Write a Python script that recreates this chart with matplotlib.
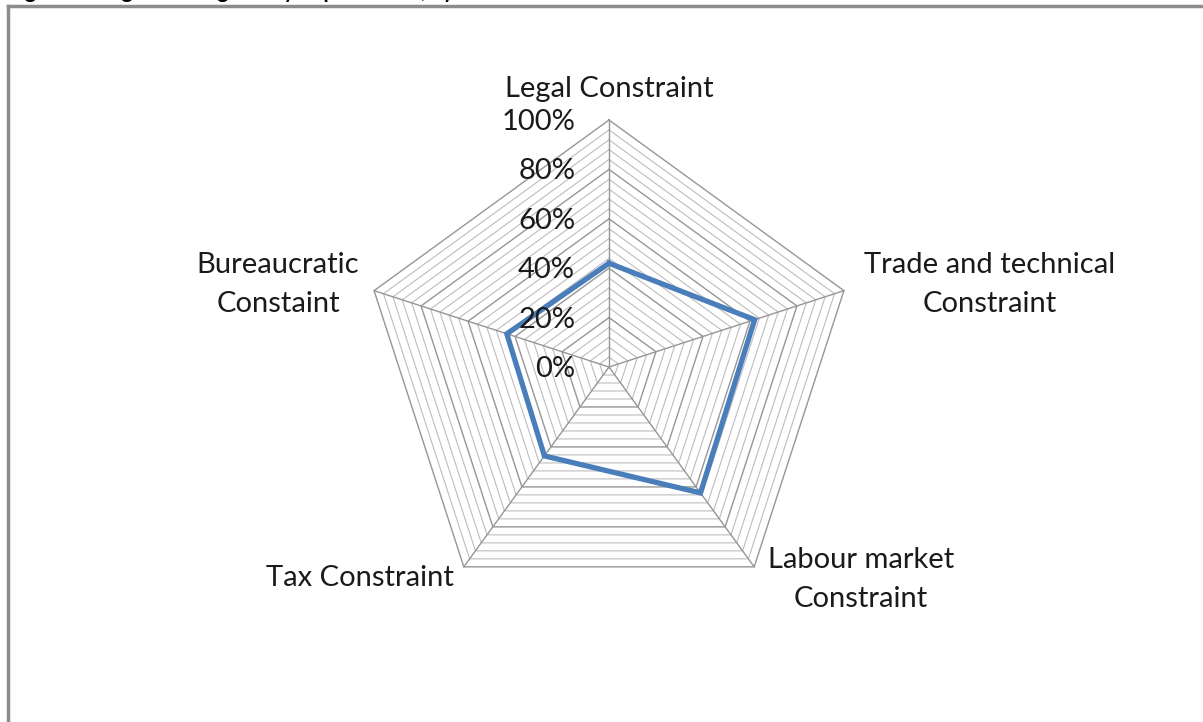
import numpy as np
import matplotlib
matplotlib.use("Agg")
import matplotlib.pyplot as plt
from matplotlib.lines import Line2D

# categories, clockwise from the top
categories = ["Legal Constraint", "Trade and technical\nConstraint", "Labour market\nConstraint",
              "Tax Constraint", "Bureaucratic\nConstaint"]
values = [0.42, 0.62, 0.63, 0.445, 0.435]
tick_values = [0.0, 0.2, 0.4, 0.6, 0.8, 1.0]
tick_labels = ["0%", "20%", "40%", "60%", "80%", "100%"]
minor_step = 0.04

# label anchor positions (in radar units, 1.0 = 100%)
label_pos = [(0.0, 1.125), (1.54, 0.335), (1.02, -0.86), (-1.01, -0.855), (-1.34, 0.335)]

FONT = ["Lato", "DejaVu Sans"]
LINE_BLUE = "#4a7ebb"

n = len(categories)
angles = np.deg2rad(90 - 360 / n * np.arange(n))
dx, dy = np.cos(angles), np.sin(angles)


def ring(r):
    """Closed pentagon at radius r."""
    x = np.append(dx * r, dx[0] * r)
    y = np.append(dy * r, dy[0] * r)
    return x, y


fig = plt.figure(figsize=(12.03, 7.22), dpi=100)
ax = fig.add_axes([0, 0, 1, 1])
scale = 247.0  # pixels per 100%
cx, cy = 609.0, 355.0  # centre of the radar in pixels from lower-left
ax.set_xlim(-cx / scale, (1203 - cx) / scale)
ax.set_ylim(-cy / scale, (722 - cy) / scale)
ax.axis("off")

# minor and major grid rings
for r in np.arange(minor_step, 1.0 + 1e-9, minor_step):
    major = any(abs(r - t) < 1e-6 for t in tick_values)
    x, y = ring(r)
    ax.plot(x, y, color="#969696" if major else "#bdbdbd", lw=1.0 if major else 0.8, zorder=1)

# spokes
for a, b in zip(dx, dy):
    ax.plot([0, a], [0, b], color="#969696", lw=1.0, zorder=1)

# data series
vx = np.append(dx * values, dx[0] * values[0])
vy = np.append(dy * values, dy[0] * values[0])
ax.plot(vx, vy, color=LINE_BLUE, lw=3.8, solid_joinstyle="miter", zorder=3)

# radial tick labels
for t, lab in zip(tick_values, tick_labels):
    ax.text(-0.137, t - 0.008, lab, ha="right", va="center", fontsize=21, family=FONT, color="#1a1a1a")

# category labels
for (x, y), lab in zip(label_pos, categories):
    ax.text(x, y, lab, ha="center", va="center", fontsize=21, family=FONT, color="#1a1a1a",
            linespacing=1.6)

# cropped caption above the frame and the frame itself
fig.text(0.007, 1.0 + 2.5 / 722, "Figure 1: Degree of Regulatory Impediments, by Constraint",
         ha="left", va="baseline", fontsize=15, fontweight="bold", family=FONT)
fig.add_artist(Line2D([8 / 1203, 1], [1 - 6 / 722, 1 - 6 / 722], color="#8c8c8c", lw=2.5))
fig.add_artist(Line2D([8 / 1203, 8 / 1203], [0, 1 - 6 / 722], color="#8c8c8c", lw=2.5))

fig.savefig("out.png", dpi=100)
plt.close(fig)
